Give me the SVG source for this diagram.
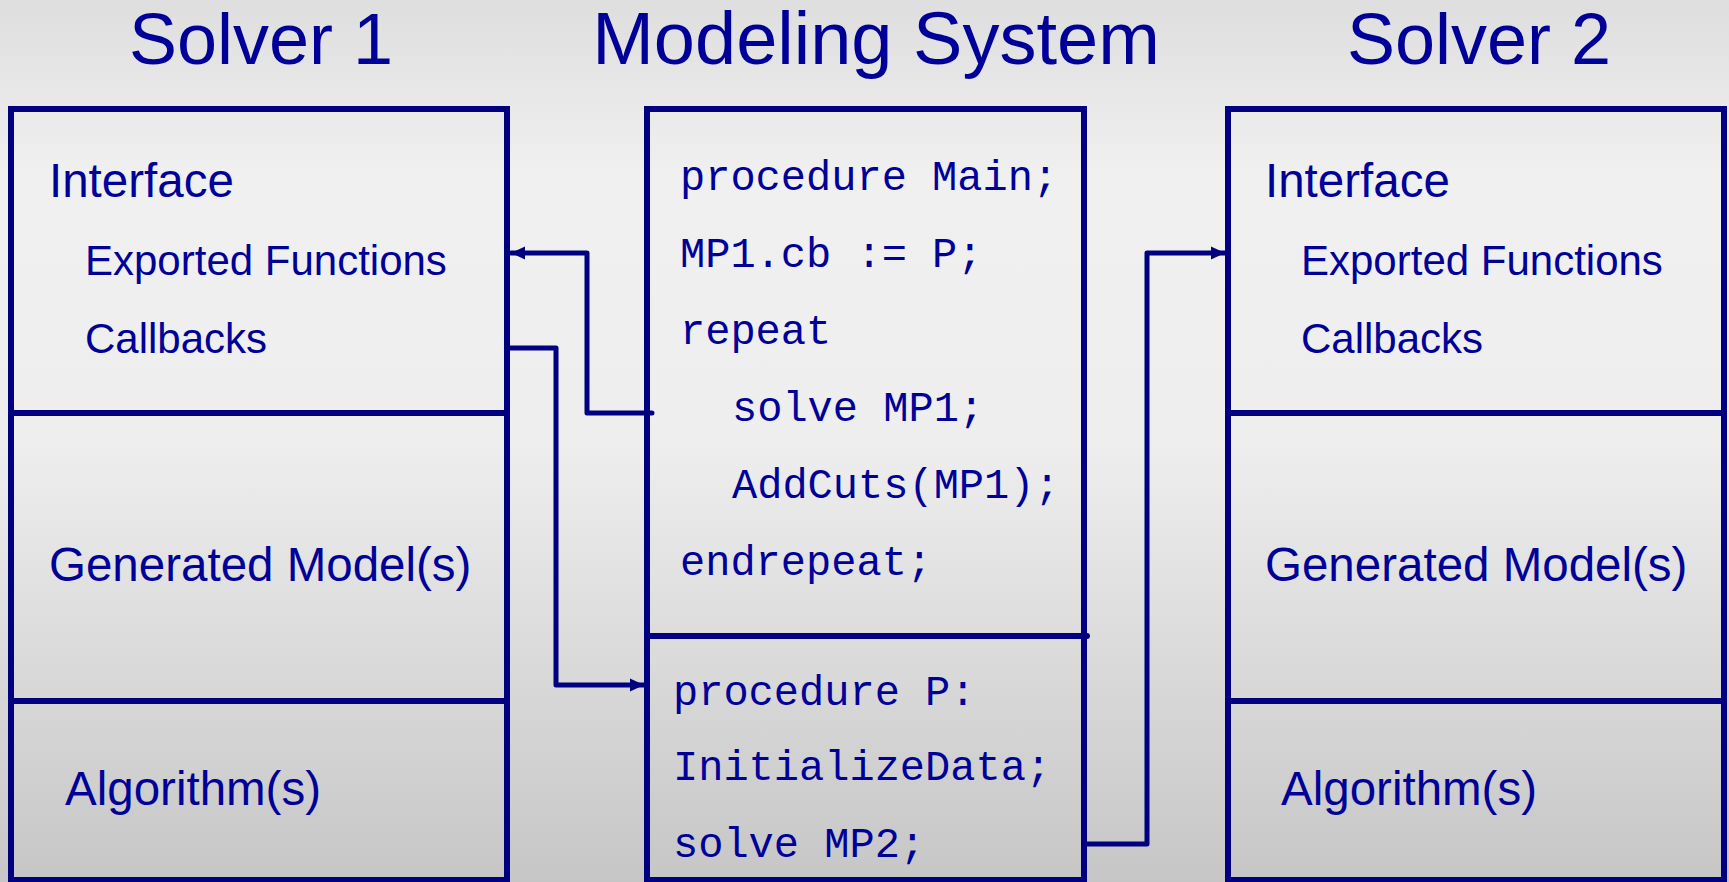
<svg xmlns="http://www.w3.org/2000/svg" width="1729" height="882" viewBox="0 0 1729 882">
<defs>
<linearGradient id="bg" x1="0" y1="0" x2="0" y2="1">
<stop offset="0" stop-color="#dedede"/>
<stop offset="0.2" stop-color="#f0f0f0"/>
<stop offset="0.5" stop-color="#eeeeee"/>
<stop offset="1" stop-color="#c6c6c6"/>
</linearGradient>
<marker id="arr" markerUnits="userSpaceOnUse" markerWidth="16" markerHeight="16" viewBox="0 0 16 16" refX="14" refY="8" orient="auto">
<path d="M0,1.5 L14,8 L0,14.5 Z" fill="#000080"/>
</marker>
<style>
.box{fill:none;stroke:#000080;stroke-width:6}
.div{stroke:#000080;stroke-width:6;stroke-linecap:round}
.con{fill:none;stroke:#000080;stroke-width:5;stroke-linejoin:round}
.title{font-family:"Liberation Sans",Arial,sans-serif;font-size:72px;fill:#000099;text-anchor:middle}
.big{font-family:"Liberation Sans",Arial,sans-serif;font-size:47.5px;fill:#000099}
.sub{font-family:"Liberation Sans",Arial,sans-serif;font-size:42px;fill:#000099}
.code{font-family:"Liberation Mono","Courier New",monospace;font-size:42px;fill:#000099}
</style>
</defs>
<rect x="0" y="0" width="1729" height="882" fill="url(#bg)"/>
<g id="titles">
<text class="title" x="261" y="64">Solver 1</text>
<text class="title" x="876" y="64" style="font-size:74px">Modeling System</text>
<text class="title" x="1479" y="64">Solver 2</text>
</g>
<g id="solver1">
<rect class="box" x="11" y="109" width="496" height="771"/>
<line class="div" x1="11" y1="413" x2="507" y2="413"/>
<line class="div" x1="11" y1="701" x2="507" y2="701"/>
<text class="big" x="49" y="197">Interface</text>
<text class="sub" x="85" y="275">Exported Functions</text>
<text class="sub" x="85" y="353">Callbacks</text>
<text class="big" x="49" y="581">Generated Model(s)</text>
<text class="big" x="65" y="805">Algorithm(s)</text>
</g>
<g id="modeling">
<rect class="box" x="647" y="109" width="437" height="771"/>
<line class="div" x1="647" y1="636" x2="1087" y2="636"/>
<text class="code" x="680" y="190">procedure Main;</text>
<text class="code" x="680" y="267">MP1.cb := P;</text>
<text class="code" x="680" y="344">repeat</text>
<text class="code" x="732" y="421">solve MP1;</text>
<text class="code" x="732" y="498">AddCuts(MP1);</text>
<text class="code" x="680" y="575">endrepeat;</text>
<text class="code" x="673" y="705">procedure P:</text>
<text class="code" x="673" y="780">InitializeData;</text>
<text class="code" x="673" y="857">solve MP2;</text>
</g>
<g id="solver2">
<rect class="box" x="1228" y="109" width="496" height="771"/>
<line class="div" x1="1228" y1="413" x2="1724" y2="413"/>
<line class="div" x1="1228" y1="701" x2="1724" y2="701"/>
<text class="big" x="1265" y="197">Interface</text>
<text class="sub" x="1301" y="275">Exported Functions</text>
<text class="sub" x="1301" y="353">Callbacks</text>
<text class="big" x="1265" y="581">Generated Model(s)</text>
<text class="big" x="1281" y="805">Algorithm(s)</text>
</g>
<g id="connectors">
<path class="con" d="M652,413 H587 V253 H511" marker-end="url(#arr)" stroke-linecap="round"/>
<path class="con" d="M508,348 H556 V685 H644" marker-end="url(#arr)"/>
<path class="con" d="M1084,844 H1147 V253 H1225" marker-end="url(#arr)"/>
</g>
</svg>
